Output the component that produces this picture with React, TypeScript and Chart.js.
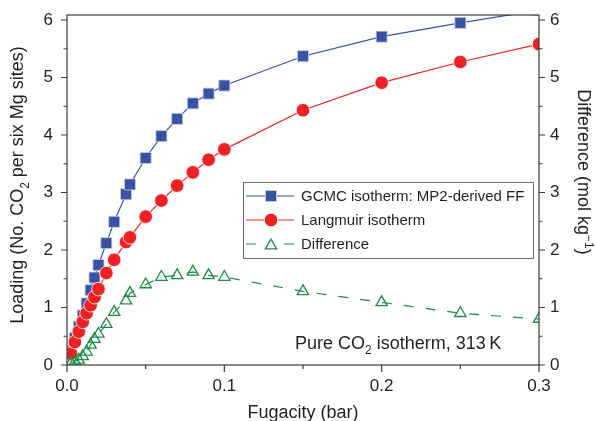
import React, { useEffect, useRef } from 'react';
import { Chart, registerables } from 'chart.js';

Chart.register(...registerables);

// ---------- data ----------
const fugacity = [0.0025, 0.005, 0.0075, 0.01, 0.0125, 0.015, 0.0175, 0.02, 0.025, 0.03, 0.0375, 0.04, 0.05, 0.06, 0.07, 0.08, 0.09, 0.1, 0.15, 0.2, 0.25, 0.3];
const gcmcLoading = [0.24, 0.47, 0.67, 0.86, 1.07, 1.30, 1.52, 1.74, 2.12, 2.49, 2.97, 3.14, 3.60, 3.98, 4.28, 4.55, 4.72, 4.86, 5.37, 5.71, 5.95, 6.17];
const langmuirLoading = [0.20, 0.40, 0.58, 0.75, 0.90, 1.04, 1.18, 1.32, 1.60, 1.83, 2.14, 2.22, 2.58, 2.86, 3.12, 3.35, 3.57, 3.75, 4.43, 4.91, 5.27, 5.58];
const difference = [0.03, 0.06, 0.09, 0.15, 0.23, 0.35, 0.45, 0.54, 0.71, 0.92, 1.12, 1.25, 1.40, 1.53, 1.56, 1.62, 1.56, 1.53, 1.28, 1.09, 0.90, 0.80];

const xTickValues = [0, 0.05, 0.1, 0.15, 0.2, 0.25, 0.3];
const xTickLabels = ['0.0', '', '0.1', '', '0.2', '', '0.3'];
const yTickValues = [0, 0.5, 1, 1.5, 2, 2.5, 3, 3.5, 4, 4.5, 5, 5.5, 6];
const yTickLabels = ['0', '', '1', '', '2', '', '3', '', '4', '', '5', '', '6'];

const seriesNames = ['GCMC isotherm: MP2-derived FF', 'Langmuir isotherm', 'Difference'];

const BLUE = '#3953a4';
const RED = '#ed2024';
const GREEN = '#1b8c45';
const INK = '#231f20';
const AXIS = '#3a3a3a';
const FONT = '"Liberation Sans", Arial, Helvetica, sans-serif';

type Seg = [string, number]; // 0 normal, 1 sub, 2 sup

function drawRich(ctx: CanvasRenderingContext2D, x: number, y: number, segs: Seg[], size: number, align: 'left' | 'center') {
  const small = size * 0.66;
  const widths = segs.map(([t, k]) => {
    ctx.font = `${k ? small : size}px ${FONT}`;
    return ctx.measureText(t).width;
  });
  const total = widths.reduce((a, b) => a + b, 0);
  let cx = align === 'center' ? x - total / 2 : x;
  ctx.textAlign = 'left';
  ctx.textBaseline = 'alphabetic';
  segs.forEach(([t, k], i) => {
    ctx.font = `${k ? small : size}px ${FONT}`;
    const dy = k === 1 ? size * 0.28 : k === 2 ? -size * 0.4 : 0;
    ctx.fillText(t, cx, y + dy);
    cx += widths[i];
  });
}

function drawMarker(ctx: CanvasRenderingContext2D, kind: string, x: number, y: number) {
  ctx.save();
  if (kind === 'rect') {
    ctx.fillStyle = BLUE;
    ctx.strokeStyle = '#c8d0e8';
    ctx.lineWidth = 0.8;
    ctx.beginPath();
    ctx.rect(x - 5.5, y - 5.5, 11, 11);
    ctx.fill();
    ctx.stroke();
  } else if (kind === 'circle') {
    ctx.fillStyle = RED;
    ctx.strokeStyle = '#ffffff';
    ctx.lineWidth = 0.8;
    ctx.beginPath();
    ctx.arc(x, y, 6.8, 0, Math.PI * 2);
    ctx.fill();
    ctx.stroke();
  } else {
    const r = 6.5;
    ctx.strokeStyle = GREEN;
    ctx.lineWidth = 1.3;
    ctx.beginPath();
    const yc = y + r * 0.25;
    ctx.moveTo(x, yc - r);
    ctx.lineTo(x + r * Math.sin((2 * Math.PI) / 3), yc - r * Math.cos((2 * Math.PI) / 3));
    ctx.lineTo(x + r * Math.sin((4 * Math.PI) / 3), yc - r * Math.cos((4 * Math.PI) / 3));
    ctx.closePath();
    ctx.stroke();
  }
  ctx.restore();
}

const overlay = {
  id: 'overlay',
  afterDraw(chart: any) {
    const { ctx, chartArea: a, scales } = chart;
    const xs = scales.x;
    const ys = scales.y;
    const y2 = scales.y2;
    ctx.save();

    // frame
    ctx.strokeStyle = AXIS;
    ctx.lineWidth = 1.2;
    ctx.strokeRect(a.left, a.top, a.right - a.left, a.bottom - a.top);

    // tick marks (outward)
    ctx.beginPath();
    xTickValues.forEach((v, i) => {
      const px = xs.getPixelForValue(v);
      const len = xTickLabels[i] ? 7 : 4;
      ctx.moveTo(px, a.bottom);
      ctx.lineTo(px, a.bottom + len);
    });
    yTickValues.forEach((v, i) => {
      const len = yTickLabels[i] ? 6 : 3.5;
      const py = ys.getPixelForValue(v);
      ctx.moveTo(a.left, py);
      ctx.lineTo(a.left - len, py);
      const py2 = y2.getPixelForValue(v);
      ctx.moveTo(a.right, py2);
      ctx.lineTo(a.right + len, py2);
    });
    ctx.stroke();

    ctx.fillStyle = INK;
    // x title
    drawRich(ctx, (a.left + a.right) / 2, 418, [['Fugacity (bar)', 0]], 18, 'center');

    // left title
    ctx.save();
    ctx.translate(17, 185);
    ctx.rotate(-Math.PI / 2);
    drawRich(ctx, 0, 18 * 0.36, [['Loading (No. CO', 0], ['2', 1], [' per six Mg sites)', 0]], 18, 'center');
    ctx.restore();

    // right title
    ctx.save();
    ctx.translate(584, 172);
    ctx.rotate(Math.PI / 2);
    drawRich(ctx, 0, 18 * 0.36, [['Difference (mol kg', 0], ['\u22121', 2], [')', 0]], 18, 'center');
    ctx.restore();

    // annotation
    drawRich(ctx, 295, 349, [['Pure CO', 0], ['2', 1], [' isotherm, 313\u2009K', 0]], 18, 'left');

    // legend
    const lx = 243, ly = 182, lw = 290, lh = 76;
    ctx.fillStyle = '#ffffff';
    ctx.fillRect(lx, ly, lw, lh);
    ctx.strokeStyle = '#6d6d6d';
    ctx.lineWidth = 1;
    ctx.strokeRect(lx + 0.5, ly + 0.5, lw, lh);
    const rows = [196, 220, 244];
    const kinds = ['rect', 'circle', 'triangle'];
    const colors = [BLUE, RED, GREEN];
    rows.forEach((ry, i) => {
      ctx.save();
      ctx.strokeStyle = colors[i];
      ctx.lineWidth = 1.2;
      ctx.beginPath();
      if (i < 2) {
        ctx.moveTo(246, ry);
        ctx.lineTo(294, ry);
      } else {
        ctx.moveTo(246, ry);
        ctx.lineTo(256, ry);
        ctx.moveTo(284, ry);
        ctx.lineTo(294, ry);
      }
      ctx.stroke();
      ctx.restore();
      drawMarker(ctx, kinds[i], 271, ry);
      ctx.fillStyle = INK;
      drawRich(ctx, 301, ry + 15 * 0.36, [[seriesNames[i], 0]], 15, 'left');
    });

    ctx.restore();
  },
};

const fitV = (w: number) => (s: any) => {
  s.width = w;
  s.paddingTop = 0;
  s.paddingBottom = 0;
};

export default function App() {
  const ref = useRef<HTMLCanvasElement | null>(null);

  useEffect(() => {
    const canvas = ref.current;
    if (!canvas) return;
    const pts = (ys: number[]) => fugacity.map((x, i) => ({ x, y: ys[i] }));
    const tickFont = { family: FONT, size: 17 };
    const chart = new Chart(canvas, {
      type: 'line',
      data: {
        datasets: [
          {
            label: seriesNames[2],
            data: pts(difference),
            yAxisID: 'y2',
            borderColor: GREEN,
            borderWidth: 1.2,
            borderDash: [10, 12],
            pointStyle: 'triangle',
            pointRadius: 6.5,
            pointBorderWidth: 1.3,
            pointBorderColor: GREEN,
            pointBackgroundColor: 'rgba(255,255,255,0)',
            clip: 0,
          } as any,
          {
            label: seriesNames[1],
            data: pts(langmuirLoading),
            yAxisID: 'y',
            borderColor: RED,
            borderWidth: 1.2,
            pointStyle: 'circle',
            pointRadius: 6.8,
            pointBorderWidth: 0.8,
            pointBorderColor: '#ffffff',
            pointBackgroundColor: RED,
            clip: 0,
          } as any,
          {
            label: seriesNames[0],
            data: pts(gcmcLoading),
            yAxisID: 'y',
            borderColor: BLUE,
            borderWidth: 1.2,
            pointStyle: 'rect',
            pointRadius: 7.8,
            pointBorderWidth: 0.8,
            pointBorderColor: '#c8d0e8',
            pointBackgroundColor: BLUE,
            clip: 0,
          } as any,
        ],
      },
      options: {
        animation: false,
        responsive: false,
        devicePixelRatio: 1,
        events: [],
        layout: { autoPadding: false, padding: { top: 15, left: 0, right: 0, bottom: 0 } },
        plugins: { legend: { display: false }, tooltip: { enabled: false }, title: { display: false } },
        scales: {
          x: {
            type: 'linear',
            min: 0,
            max: 0.3,
            grid: { display: false, drawTicks: false },
            border: { display: false },
            afterBuildTicks: (s: any) => { s.ticks = xTickValues.map((v) => ({ value: v })); },
            afterFit: (s: any) => { s.height = 56; s.paddingLeft = 0; s.paddingRight = 0; },
            ticks: {
              autoSkip: false,
              maxRotation: 0,
              padding: 11,
              color: INK,
              font: tickFont,
              callback: (_v: any, i: number) => xTickLabels[i],
            },
          },
          y: {
            type: 'linear',
            position: 'left',
            min: 0,
            max: 6.087,
            grid: { display: false, drawTicks: false },
            border: { display: false },
            afterBuildTicks: (s: any) => { s.ticks = yTickValues.map((v) => ({ value: v })); },
            afterFit: fitV(67),
            ticks: {
              autoSkip: false,
              padding: 14,
              color: INK,
              font: tickFont,
              callback: (_v: any, i: number) => yTickLabels[i],
            },
          },
          y2: {
            type: 'linear',
            position: 'right',
            min: 0,
            max: 6.087,
            grid: { display: false, drawTicks: false },
            border: { display: false },
            afterBuildTicks: (s: any) => { s.ticks = yTickValues.map((v) => ({ value: v })); },
            afterFit: fitV(56),
            ticks: {
              autoSkip: false,
              padding: 11,
              color: INK,
              font: tickFont,
              callback: (_v: any, i: number) => yTickLabels[i],
            },
          },
        },
      } as any,
      plugins: [overlay],
    });
    return () => chart.destroy();
  }, []);

  return (
    <div style={{ position: 'fixed', left: 0, top: 0, width: 595, height: 421, background: '#ffffff' }}>
      <canvas ref={ref} width={595} height={421} style={{ display: 'block', width: 595, height: 421 }} />
    </div>
  );
}
